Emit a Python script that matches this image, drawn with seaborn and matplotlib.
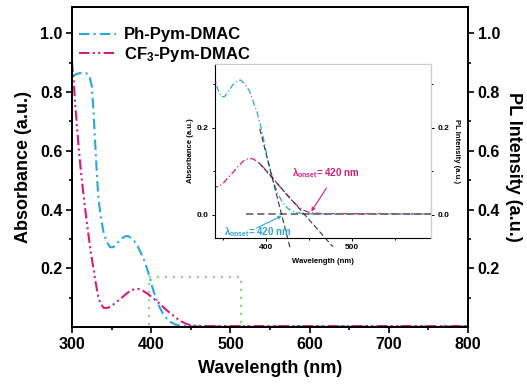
import matplotlib
matplotlib.use("Agg")
import matplotlib.pyplot as plt
from matplotlib.ticker import MultipleLocator, FixedLocator
from matplotlib.patches import Rectangle
import pandas as pd
import seaborn as sns

# Absorption spectra (wavelength in nm, absorbance in a.u.)
wl_ph = [300, 304, 310, 318, 322, 325, 327, 329, 331, 333, 336, 340, 344, 348,
         352, 357, 362, 367, 371, 376, 381, 386, 390, 394, 398, 402, 406, 410,
         415, 420, 425, 430, 436, 445, 460, 500, 600, 700, 800]
abs_ph = [0.852, 0.860, 0.865, 0.864, 0.855, 0.820, 0.740, 0.640, 0.540, 0.450,
          0.380, 0.320, 0.290, 0.272, 0.272, 0.285, 0.300, 0.309, 0.310, 0.300,
          0.285, 0.258, 0.235, 0.205, 0.170, 0.130, 0.098, 0.070, 0.045, 0.027,
          0.016, 0.009, 0.005, 0.003, 0.002, 0.002, 0.002, 0.002, 0.002]

wl_cf3 = [300, 302, 304, 306, 308, 310, 312, 315, 318, 321, 324, 327, 330, 333,
          336, 340, 345, 350, 356, 362, 368, 374, 380, 385, 390, 396, 402, 408,
          414, 420, 426, 432, 438, 444, 450, 458, 470, 500, 600, 700, 800]
abs_cf3 = [0.905, 0.840, 0.760, 0.690, 0.625, 0.565, 0.510, 0.440, 0.370, 0.310,
           0.250, 0.200, 0.150, 0.105, 0.080, 0.065, 0.065, 0.072, 0.085, 0.098,
           0.112, 0.124, 0.130, 0.129, 0.123, 0.112, 0.099, 0.086, 0.071, 0.056,
           0.043, 0.030, 0.019, 0.011, 0.006, 0.004, 0.003, 0.003, 0.003, 0.003,
           0.003]

series_names = ["Ph-Pym-DMAC", "CF$_3$-Pym-DMAC"]
series_colors = ["#2CA6DE", "#D51C7F"]
series_dashes = [(0, (5, 2, 1, 2)), (0, (5, 1.6, 1, 1.6, 1, 1.6))]

main_xticks = [300, 400, 500, 600, 700, 800]
main_yticks = [0.2, 0.4, 0.6, 0.8, 1.0]
main_xlim = (300, 800)
main_ylim = (0.0, 1.09)

# region magnified in the inset
zoom_x0, zoom_x1 = 397, 514
zoom_y0, zoom_y1 = 0.0, 0.172

inset_xlim = (341, 592)
inset_ylim = (-0.053, 0.347)
inset_xticks = [400, 500]
inset_yticks = [0.0, 0.2]

# onset construction lines
baseline_x = [377, 592]
baseline_y = [0.002, 0.002]
tangent_ph_x = [393, 428]
tangent_ph_y = [0.198, -0.074]
tangent_cf3_x = [392, 478]
tangent_cf3_y = [0.120, -0.073]
onset_text = "λ$_{onset}$= 420 nm"
onset_ph_text_xy = (352, -0.039)
onset_ph_arrow = ((389.5, -0.030), (418.6, -0.002))
onset_cf3_text_xy = (431, 0.097)
onset_cf3_arrow = ((470.5, 0.062), (452.9, 0.008))

sns.set_style("ticks")
plt.rcParams["font.family"] = ["Liberation Sans", "DejaVu Sans"]
plt.rcParams["font.weight"] = "bold"
plt.rcParams["text.color"] = "black"
plt.rcParams["axes.labelcolor"] = "black"
plt.rcParams["xtick.color"] = "black"
plt.rcParams["ytick.color"] = "black"
plt.rcParams["axes.edgecolor"] = "black"
plt.rcParams["mathtext.fontset"] = "custom"
plt.rcParams["mathtext.rm"] = "Liberation Sans:bold"
plt.rcParams["mathtext.it"] = "Liberation Sans:bold"
plt.rcParams["mathtext.bf"] = "Liberation Sans:bold"

df_ph = pd.DataFrame({"Wavelength": wl_ph, "Absorbance": abs_ph})
df_cf3 = pd.DataFrame({"Wavelength": wl_cf3, "Absorbance": abs_cf3})
frames = [df_ph, df_cf3]

fig = plt.figure(figsize=(5.27, 3.90), dpi=100)
ax = fig.add_axes([72 / 527, 63 / 390, 396 / 527, 320 / 390])

for df, name, col, dash in zip(frames, series_names, series_colors, series_dashes):
    sns.lineplot(data=df, x="Wavelength", y="Absorbance", ax=ax, color=col,
                 lw=1.5, label=name, legend=False)
    ax.lines[-1].set_linestyle(dash)

ax.add_patch(Rectangle((zoom_x0, zoom_y0), zoom_x1 - zoom_x0, zoom_y1 - zoom_y0,
                       fill=False, ec="#97D38C", lw=1.6, ls=(0, (1, 2.6))))

ax.set_xlim(*main_xlim)
ax.set_ylim(*main_ylim)
ax.xaxis.set_major_locator(FixedLocator(main_xticks))
ax.xaxis.set_minor_locator(MultipleLocator(50))
ax.yaxis.set_major_locator(FixedLocator(main_yticks))
ax.yaxis.set_minor_locator(FixedLocator([0.1, 0.3, 0.5, 0.7, 0.9]))
ax.set_xlabel("Wavelength (nm)", fontsize=13, fontweight="bold", labelpad=6)
ax.set_ylabel("Absorbance (a.u.)", fontsize=13, fontweight="bold", labelpad=6)
ax.tick_params(which="major", direction="out", length=4, width=1.2,
               labelsize=11.5, pad=3, colors="black")
ax.tick_params(which="minor", direction="out", length=2.5, width=1.2,
               colors="black")
for sp in ax.spines.values():
    sp.set_linewidth(1.3)
    sp.set_color("black")

axr = ax.twinx()
axr.set_ylim(*main_ylim)
axr.yaxis.set_major_locator(FixedLocator(main_yticks))
axr.yaxis.set_minor_locator(FixedLocator([0.1, 0.3, 0.5, 0.7, 0.9]))
axr.tick_params(which="major", direction="out", length=4, width=1.2,
                labelsize=11.5, pad=3, colors="black")
axr.tick_params(which="minor", direction="out", length=2.5, width=1.2,
                colors="black")
axr.set_ylabel("PL Intensity (a.u.)", fontsize=13, fontweight="bold",
               rotation=270, labelpad=16)
for sp in axr.spines.values():
    sp.set_linewidth(1.3)
    sp.set_color("black")

leg = ax.legend(loc="upper left", bbox_to_anchor=(-0.013, 0.975), frameon=False,
                fontsize=12, handlelength=2.2, handletextpad=0.45,
                labelspacing=0.12, borderaxespad=0.45, borderpad=0.3)
for t in leg.get_texts():
    t.set_fontweight("bold")
    t.set_color("black")

# inset: onset region
ins = fig.add_axes([215 / 527, 152 / 390, 216 / 527, 174 / 390])
for df, col in zip(frames, series_colors):
    sns.lineplot(data=df, x="Wavelength", y="Absorbance", ax=ins, color=col,
                 lw=0.9, legend=False)
    ins.lines[-1].set_linestyle((0, (5, 2, 1, 2)))

ins.plot(baseline_x, baseline_y, color="#6E6E6E", lw=1.3, ls=(0, (4, 2.2)))
ins.plot(tangent_ph_x, tangent_ph_y, color="#333333", lw=0.8,
         ls=(0, (5, 2.5)), clip_on=False)
ins.plot(tangent_cf3_x, tangent_cf3_y, color="#333333", lw=0.8,
         ls=(0, (5, 2.5)), clip_on=False)

ins.text(*onset_ph_text_xy, onset_text, color=series_colors[0], fontsize=7,
         fontweight="bold", ha="left", va="center")
ins.annotate("", xy=onset_ph_arrow[1], xytext=onset_ph_arrow[0],
             arrowprops=dict(arrowstyle="-|>", color=series_colors[0], lw=0.8,
                             mutation_scale=5, shrinkA=0, shrinkB=0))
ins.text(*onset_cf3_text_xy, onset_text, color=series_colors[1], fontsize=7,
         fontweight="bold", ha="left", va="center")
ins.annotate("", xy=onset_cf3_arrow[1], xytext=onset_cf3_arrow[0],
             arrowprops=dict(arrowstyle="-|>", color=series_colors[1], lw=0.8,
                             mutation_scale=5, shrinkA=0, shrinkB=0))

ins.set_xlim(*inset_xlim)
ins.set_ylim(*inset_ylim)
ins.xaxis.set_major_locator(FixedLocator(inset_xticks))
ins.xaxis.set_minor_locator(FixedLocator([350, 450, 550]))
ins.yaxis.set_major_locator(FixedLocator(inset_yticks))
ins.yaxis.set_minor_locator(FixedLocator([0.1, 0.3]))
ins.set_xlabel("Wavelength (nm)", fontsize=5.5, fontweight="bold", labelpad=5)
ins.set_ylabel("Absorbance (a.u.)", fontsize=5.5, fontweight="bold", labelpad=2)
ins.tick_params(which="major", direction="out", length=2.5, width=0.7,
                labelsize=6, pad=2, colors="black")
ins.tick_params(which="minor", direction="out", length=1.5, width=0.7,
                colors="black")
ins.spines["left"].set_color("black")
ins.spines["bottom"].set_color("black")
ins.spines["left"].set_linewidth(0.8)
ins.spines["bottom"].set_linewidth(0.8)
ins.spines["top"].set_color("#CCCCCC")
ins.spines["right"].set_color("#CCCCCC")

insr = ins.twinx()
insr.set_ylim(*inset_ylim)
insr.yaxis.set_major_locator(FixedLocator(inset_yticks))
insr.yaxis.set_minor_locator(FixedLocator([0.1, 0.3]))
insr.tick_params(which="major", direction="out", length=2.5, width=0.7,
                 labelsize=6, pad=2, colors="black")
insr.tick_params(which="minor", direction="out", length=1.5, width=0.7,
                 colors="black")
insr.set_ylabel("PL Intensity (a.u.)", fontsize=5.5, fontweight="bold",
                rotation=270, labelpad=8)
insr.spines["right"].set_color("#CCCCCC")
insr.spines["top"].set_color("#CCCCCC")
insr.spines["left"].set_visible(False)
insr.spines["bottom"].set_visible(False)

fig.savefig("out.png", dpi=100)
